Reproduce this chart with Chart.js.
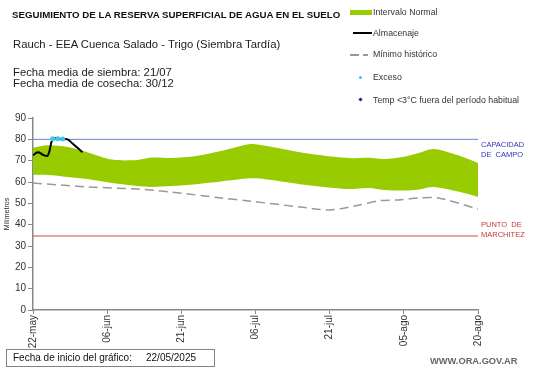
<!DOCTYPE html>
<html>
<head>
<meta charset="utf-8">
<script src="https://cdn.jsdelivr.net/npm/chart.js@4"></script>
<style>
  body { margin: 0; background: #fff; font-family: "Liberation Sans", Arial, sans-serif; }
  #wrap { position: relative; width: 541px; height: 368px; overflow: hidden; }
  #wrap canvas { position: absolute; left: 0; top: 0; }
  .t { position: absolute; white-space: nowrap; line-height: 1; }
  .leg { position: absolute; font-size: 8.8px; color: #333; white-space: nowrap; line-height: 1; }
</style>
</head>
<body>
<div id="wrap">
  <canvas id="chart" width="541" height="368"></canvas>

  <div class="t" style="left:12px;top:10px;font-size:9.7px;font-weight:bold;color:#111;">SEGUIMIENTO DE LA RESERVA SUPERFICIAL DE AGUA EN EL SUELO</div>
  <div class="t" style="left:13px;top:39px;font-size:11.3px;color:#222;">Rauch  - EEA Cuenca Salado - Trigo (Siembra Tardía)</div>
  <div class="t" style="left:13px;top:67px;font-size:11.3px;color:#222;">Fecha media de siembra: 21/07</div>
  <div class="t" style="left:13px;top:78px;font-size:11.3px;color:#222;">Fecha media de cosecha: 30/12</div>

  <!-- leyenda -->
  <div style="position:absolute;left:350px;top:10px;width:22px;height:5px;background:#99cc00;"></div>
  <div class="leg" style="left:373px;top:8px;">Intervalo Normal</div>
  <div style="position:absolute;left:353px;top:32px;width:19px;height:2px;background:#000;"></div>
  <div class="leg" style="left:373px;top:29px;">Almacenaje</div>
  <div style="position:absolute;left:350px;top:54px;width:9px;height:1.5px;background:#999;"></div>
  <div style="position:absolute;left:363px;top:54px;width:5px;height:1.5px;background:#999;"></div>
  <div class="leg" style="left:373px;top:50px;">Mínimo histórico</div>
  <div style="position:absolute;left:359px;top:76px;width:3px;height:3px;border-radius:50%;background:#3cc8e8;"></div>
  <div class="leg" style="left:373px;top:73px;">Exceso</div>
  <div style="position:absolute;left:359px;top:98px;width:3px;height:3px;background:#1a1a8c;transform:rotate(45deg);"></div>
  <div class="leg" style="left:373px;top:96px;">Temp &lt;3°C fuera del período habitual</div>

  <div class="t" style="left:481px;top:140px;font-size:7.5px;color:#3333bb;line-height:10px;">CAPACIDAD<br>DE&nbsp; CAMPO</div>
  <div class="t" style="left:481px;top:220px;font-size:7.5px;color:#c0393b;line-height:10px;">PUNTO&nbsp; DE<br>MARCHITEZ</div>

  <div style="position:absolute;left:6px;top:349px;width:209px;height:18px;border:1px solid #8c7f7f;box-sizing:border-box;"></div>
  <div class="t" style="left:13px;top:353px;font-size:10px;color:#111;">Fecha de inicio del gráfico:</div>
  <div class="t" style="left:146px;top:353px;font-size:10px;color:#111;">22/05/2025</div>
  <div class="t" style="left:430px;top:357px;font-size:9.3px;font-weight:bold;color:#666;">WWW.ORA.GOV.AR</div>
</div>

<script>
// dias desde el 22-may
const tickDays = [0, 15, 30, 45, 60, 75, 90]
const tickLabels = ["22-may", "06-jun", "21-jun", "06-jul", "21-jul", "05-ago", "20-ago"]

const bandDays = [0, 3, 7, 11, 16, 21, 24, 28, 33, 38, 44, 47, 54, 61, 64, 68, 71, 75, 78, 81, 86, 90]
const bandUpper = [76, 77.2, 76.4, 74, 70.5, 70.3, 71.5, 71.3, 72.2, 74.5, 77.8, 77, 74, 71.8, 71.2, 71.4, 70.8, 71.8, 73.6, 75.5, 72.5, 68.9]
const bandLower = [63.3, 63.3, 62.4, 61.4, 59.5, 58.1, 57.7, 58.1, 59, 60.2, 61.7, 61.3, 59, 57.2, 56.7, 57.2, 56.3, 56, 56.5, 57.7, 55.5, 53]

const minDays = [0, 11, 21, 28, 38, 44, 54, 60, 66, 70, 74, 78, 82, 90]
const minVals = [59.5, 57.7, 56.7, 55.3, 52.5, 51, 48.3, 46.9, 49.2, 51.2, 51.6, 52.5, 52.5, 47.3]

const almDays = [0, 1, 2, 3, 4, 5, 6, 7, 8, 9, 10]
const almVals = [72.5, 74, 72.8, 72.4, 80.3, 80.3, 80.2, 80, 78, 76, 74]

const excesoDays = [4, 5, 6]
const excesoVals = [80.3, 80.3, 80.2]

const tempDays = []
const tempVals = []

const capacidadCampo = 80
const puntoMarchitez = 34.7

const pts = (xs, ys) => xs.map((x, i) => ({ x: x, y: ys[i] }))
const flat = (v) => [{ x: 0, y: v }, { x: 90, y: v }]

// order mas bajo = se dibuja encima
new Chart(document.getElementById("chart"), {
  type: "line",
  data: {
    datasets: [
      { data: pts(bandDays, bandLower), order: 10, borderWidth: 0, pointRadius: 0, tension: 0.3, fill: false },
      { data: pts(bandDays, bandUpper), order: 9, borderWidth: 0, pointRadius: 0, tension: 0.3, fill: "-1", backgroundColor: "#99cc00" },
      { data: flat(capacidadCampo), order: 8, borderColor: "#6d80c8", borderWidth: 1, pointRadius: 0 },
      { data: flat(puntoMarchitez), order: 8, borderColor: "#c0504d", borderWidth: 1, pointRadius: 0 },
      { data: pts(minDays, minVals), order: 7, borderColor: "#999", borderWidth: 1.5, borderDash: [9, 5], pointRadius: 0, tension: 0.3 },
      { data: pts(almDays, almVals), order: 3, borderColor: "#000", borderWidth: 2, pointRadius: 0, tension: 0.4 },
      { data: pts(excesoDays, excesoVals), order: 1, showLine: false, pointRadius: 2.5, pointBackgroundColor: "#3cc8e8", pointBorderWidth: 0 },
      { data: pts(tempDays, tempVals), order: 1, showLine: false, pointStyle: "rectRot", pointRadius: 2.5, pointBackgroundColor: "#1a1a8c", pointBorderWidth: 0 }
    ]
  },
  options: {
    responsive: false,
    animation: false,
    layout: { padding: { top: 118, right: 63, bottom: 0, left: 0 } },
    plugins: { legend: { display: false }, tooltip: { enabled: false } },
    scales: {
      x: {
        type: "linear",
        min: 0,
        max: 90,
        afterFit: (s) => { s.height = 58 },
        afterBuildTicks: (s) => { s.ticks = tickDays.map(v => ({ value: v })) },
        grid: { drawOnChartArea: false, drawTicks: true, tickLength: 4, color: "#888" },
        border: { color: "#888", width: 1.5 },
        ticks: {
          autoSkip: false, minRotation: 90, maxRotation: 90, padding: 1,
          color: "#333", font: { family: "Liberation Sans", size: 10 },
          callback: (v) => tickLabels[tickDays.indexOf(v)]
        }
      },
      y: {
        min: 0,
        max: 90,
        afterFit: (s) => { s.width = 33 },
        grid: { drawOnChartArea: false, drawTicks: true, tickLength: 5, color: "#888" },
        border: { color: "#888", width: 1.5 },
        ticks: { stepSize: 10, padding: 2, color: "#333", font: { family: "Liberation Sans", size: 10 } },
        title: { display: true, text: "Milímetros", color: "#222", padding: { top: 3, bottom: 0 }, font: { family: "Liberation Sans", size: 7 } }
      }
    }
  }
})
</script>
</body>
</html>
